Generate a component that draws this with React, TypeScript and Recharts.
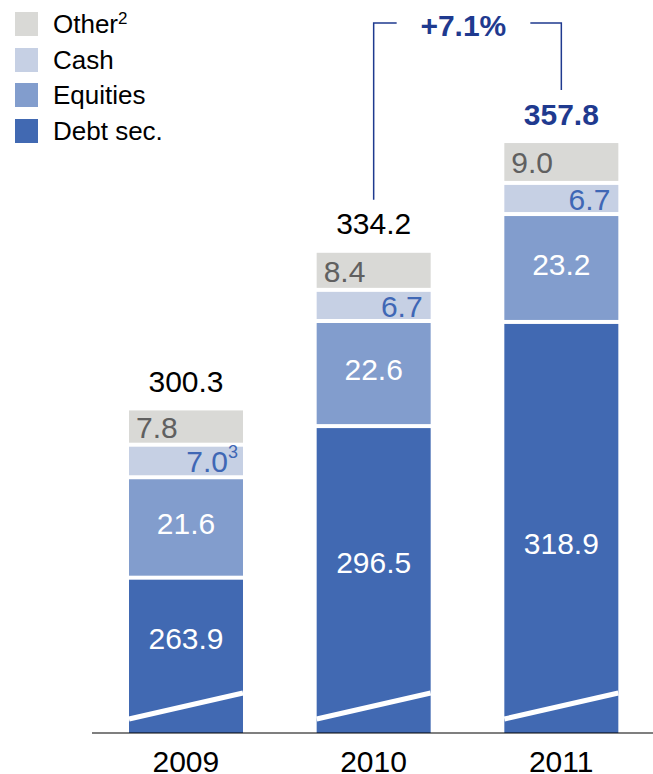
import { Bar, BarChart, LabelList, XAxis, YAxis } from 'recharts';

// values (EUR bn)
const years = ['2009', '2010', '2011'];
const debtSec = [263.9, 296.5, 318.9];
const equities = [21.6, 22.6, 23.2];
const cash = [7.0, 6.7, 6.7];
const other = [7.8, 8.4, 9.0];
const totals = [300.3, 334.2, 357.8];
const cashNotes = ['3', '', ''];
const growth = '+7.1%';

// the value axis is broken: debt bars start at this level
const AXIS_BREAK = 230.5;

const DEBT = '#4169B2';
const EQUITY = '#829DCD';
const CASH = '#C6D0E4';
const OTHER = '#D9D9D6';
const NAVY = '#1F3A8F';
const FONT = '"Liberation Sans", Arial, sans-serif';

// where the debt label sits inside the (broken) debt bar, top -> bottom
const debtLabelPos = [0.39, 0.445, 0.54];

const data = years.map((year, i) => ({
	year,
	debt: debtSec[i] - AXIS_BREAK,
	equities: equities[i],
	cash: cash[i],
	other: other[i],
	debtLabel: debtSec[i].toFixed(1),
	equityLabel: equities[i].toFixed(1),
	cashLabel: cash[i].toFixed(1),
	otherLabel: other[i].toFixed(1),
	totalLabel: totals[i].toFixed(1),
}));

const legendItems = [
	{ name: 'Other', note: '2', color: OTHER },
	{ name: 'Cash', note: '', color: CASH },
	{ name: 'Equities', note: '', color: EQUITY },
	{ name: 'Debt sec.', note: '', color: DEBT },
];

const box = (p: any) => {
	const vb = p.viewBox || p;
	return { x: vb.x, y: vb.y, width: vb.width, height: vb.height };
};

const Segment = (props: any) => {
	const { x, y, width, height, fill } = props;
	return <rect x={x} y={y + 2} width={width} height={Math.max(height - 4, 0)} fill={fill} />;
};

const DebtSegment = (props: any) => {
	const { x, y, width, height, fill } = props;
	const bottom = y + height;
	return (
		<g>
			<rect x={x} y={y + 2} width={width} height={height - 2} fill={fill} />
			<line x1={x} y1={bottom - 14} x2={x + width} y2={bottom - 40} stroke="#fff" strokeWidth={5} />
		</g>
	);
};

const DebtLabel = (props: any) => {
	const { x, y, width, height } = box(props);
	const idx = props.index ?? 0;
	const cy = y + height * debtLabelPos[idx];
	return (
		<text x={x + width / 2} y={cy} textAnchor="middle" dominantBaseline="central" fill="#fff" fontSize={30} fontFamily={FONT}>
			{props.value}
		</text>
	);
};

const EquityLabel = (props: any) => {
	const { x, y, width, height } = box(props);
	return (
		<text x={x + width / 2} y={y + height / 2 - 4} textAnchor="middle" dominantBaseline="central" fill="#fff" fontSize={30} fontFamily={FONT}>
			{props.value}
		</text>
	);
};

const CashLabel = (props: any) => {
	const { x, y, width, height } = box(props);
	const note = cashNotes[props.index ?? 0];
	return (
		<text x={x + width - (note ? 5 : 8)} y={y + height / 2 + 1} textAnchor="end" dominantBaseline="central" fill="#3F67B5" fontSize={30} fontFamily={FONT}>
			{props.value}
			{note && (
				<tspan fontSize={18} dy={-10}>
					{note}
				</tspan>
			)}
		</text>
	);
};

const OtherLabel = (props: any) => {
	const { x, y, height } = box(props);
	return (
		<text x={x + 7} y={y + height / 2 + 1} textAnchor="start" dominantBaseline="central" fill="#606060" fontSize={30} fontFamily={FONT}>
			{props.value}
		</text>
	);
};

// total above the stack, plus the growth bracket between 2010 and 2011
const TotalLabel = (props: any) => {
	const { x, y, width } = box(props);
	const idx = props.index ?? 0;
	const cx = x + width / 2;
	const last = idx === years.length - 1;
	return (
		<g>
			<text
				x={cx}
				y={y - 27}
				textAnchor="middle"
				dominantBaseline="central"
				fill={last ? NAVY : '#000'}
				fontWeight={last ? 'bold' : 'normal'}
				fontSize={30}
				fontFamily={FONT}
			>
				{props.value}
			</text>
			{idx === 1 && (
				<polyline points={`${cx},${y - 51} ${cx},23 ${cx + 23},23`} fill="none" stroke={NAVY} strokeWidth={1.5} />
			)}
			{last && (
				<g>
					<polyline points={`${cx - 31},23 ${cx},23 ${cx},${y - 51}`} fill="none" stroke={NAVY} strokeWidth={1.5} />
					<text x={cx - 98} y={25} textAnchor="middle" dominantBaseline="central" fill={NAVY} fontWeight="bold" fontSize={30} fontFamily={FONT}>
						{growth}
					</text>
				</g>
			)}
		</g>
	);
};

const YearTick = (props: any) => {
	const { x, y, payload } = props;
	return (
		<text x={x} y={y + 20} textAnchor="middle" dominantBaseline="central" fill="#000" fontSize={30} fontFamily={FONT}>
			{payload.value}
		</text>
	);
};

const App = () => {
	return (
		<div
			style={{
				position: 'absolute',
				left: 0,
				top: 0,
				width: 653,
				height: 774,
				overflow: 'hidden',
				background: '#fff',
				fontFamily: FONT,
			}}
		>
			<BarChart
				width={655}
				height={774}
				data={data}
				margin={{ top: 82, right: 0, left: 92, bottom: 0 }}
				barSize={114}
			>
				<XAxis
					dataKey="year"
					height={41}
					tickLine={false}
					axisLine={{ stroke: '#000', strokeWidth: 1.2 }}
					tick={<YearTick />}
					interval={0}
				/>
				<YAxis hide domain={[0, 140]} />
				<Bar dataKey="debt" stackId="a" fill={DEBT} shape={<DebtSegment />} isAnimationActive={false}>
					<LabelList dataKey="debtLabel" content={<DebtLabel />} />
				</Bar>
				<Bar dataKey="equities" stackId="a" fill={EQUITY} shape={<Segment />} isAnimationActive={false}>
					<LabelList dataKey="equityLabel" content={<EquityLabel />} />
				</Bar>
				<Bar dataKey="cash" stackId="a" fill={CASH} shape={<Segment />} isAnimationActive={false}>
					<LabelList dataKey="cashLabel" content={<CashLabel />} />
				</Bar>
				<Bar dataKey="other" stackId="a" fill={OTHER} shape={<Segment />} isAnimationActive={false}>
					<LabelList dataKey="otherLabel" content={<OtherLabel />} />
					<LabelList dataKey="totalLabel" content={<TotalLabel />} />
				</Bar>
			</BarChart>
			<div style={{ position: 'absolute', left: 15, top: 12 }}>
				{legendItems.map((item) => (
					<div key={item.name} style={{ display: 'flex', alignItems: 'center', height: 24, marginBottom: 11.5 }}>
						<span style={{ display: 'inline-block', width: 23, height: 24, background: item.color }} />
						<span style={{ marginLeft: 15, fontSize: 26, color: '#000', lineHeight: '24px' }}>
							{item.name}
							{item.note && <sup style={{ fontSize: 17, verticalAlign: 'top', lineHeight: '14px' }}>{item.note}</sup>}
						</span>
					</div>
				))}
			</div>
		</div>
	);
};

export default App;
